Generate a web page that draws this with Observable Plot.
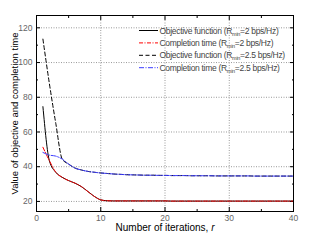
<!DOCTYPE html>
<html><head><meta charset="utf-8">
<script src="https://cdn.jsdelivr.net/npm/d3@7"></script>
<script src="https://cdn.jsdelivr.net/npm/@observablehq/plot@0.6"></script>
<style>
body{margin:0;background:#fff;}
#chart{position:relative;width:314px;height:242px;}
#legend{position:absolute;left:0;top:0;}
</style></head><body><div id="chart"></div>
<script>
const iterations = [1,2,3,4,5,6,7,8,9,10,11,12,13,14,15,16,17,18,19,20,21,22,23,24,25,26,27,28,29,30,31,32,33,34,35,36,37,38,39,40];
const objectiveR2 = [74.6,43.5,36.8,33.9,32.0,30.5,28.5,25.7,22.9,20.9,20.4,20.3,20.3,20.3,20.3,20.3,20.3,20.3,20.3,20.3,20.2,20.2,20.2,20.2,20.2,20.2,20.2,20.2,20.2,20.2,20.2,20.2,20.2,20.2,20.2,20.2,20.2,20.2,20.2,20.2];
const completionR2 = [51.2,43.5,36.8,33.9,32.0,30.5,28.5,25.7,22.9,20.9,20.4,20.3,20.3,20.3,20.3,20.3,20.3,20.3,20.3,20.3,20.2,20.2,20.2,20.2,20.2,20.2,20.2,20.2,20.2,20.2,20.2,20.2,20.2,20.2,20.2,20.2,20.2,20.2,20.2,20.2];
const objectiveR25 = [113.5,88.0,65.0,44.4,41.5,39.2,38.1,37.3,36.8,36.4,36.1,35.8,35.6,35.4,35.3,35.2,35.1,35.1,35.0,35.0,34.9,34.9,34.9,34.8,34.8,34.8,34.8,34.7,34.7,34.7,34.7,34.7,34.7,34.6,34.6,34.6,34.6,34.6,34.6,34.6];
const completionR25 = [48.2,46.7,46.1,44.4,41.5,39.2,38.1,37.3,36.8,36.4,36.1,35.8,35.6,35.4,35.3,35.2,35.1,35.1,35.0,35.0,34.9,34.9,34.9,34.8,34.8,34.8,34.8,34.7,34.7,34.7,34.7,34.7,34.7,34.6,34.6,34.6,34.6,34.6,34.6,34.6];
const xMajorTicks = [0,10,20,30,40];
const xMinorTicks = [5,15,25,35];
const yMajorTicks = [20,40,60,80,100,120];
const yMinorTicks = [30,50,70,90,110];
const seriesNames = ["obj2","comp2","obj25","comp25"];
const legendParts = [
  ["Objective function (R","min","=2 bps/Hz)"],
  ["Completion time (R","min","=2 bps/Hz)"],
  ["Objective function (R","min","=2.5 bps/Hz)"],
  ["Completion time (R","min","=2.5 bps/Hz)"]
];

const styles = {
  obj2: {stroke:"#000", dash:null},
  comp2: {stroke:"#ff0000", dash:"4,1.5,1,1.5"},
  obj25: {stroke:"#000", dash:"4,2.5"},
  comp25: {stroke:"#3b3bff", dash:"5,1.5,1,1.5"}
};
const valuesBy = {obj2: objectiveR2, comp2: completionR2, obj25: objectiveR25, comp25: completionR25};
const rows = s => iterations.map((x,i)=>({x, y: valuesBy[s][i]}));

const axisFont = "'Liberation Sans', Arial, sans-serif";
const chart = Plot.plot({
  width:314, height:242,
  marginLeft:36, marginRight:21, marginTop:15, marginBottom:31,
  style:{fontFamily:axisFont, fontSize:"8.5px", background:"#fff", color:"#000"},
  x:{domain:[0,40]},
  y:{domain:[14.2,127.1]},
  marks:[
    Plot.gridX(xMajorTicks, {stroke:"#9a9a9a", strokeOpacity:1, strokeDasharray:"1,1.5"}),
    Plot.gridY(yMajorTicks, {stroke:"#9a9a9a", strokeOpacity:1, strokeDasharray:"1,1.5"}),
    Plot.axisX(xMajorTicks, {tickSize:0, tickPadding:3, fill:"#666", label:null}),
    Plot.axisY(yMajorTicks, {tickSize:0, tickPadding:4, fill:"#666", label:null}),
    Plot.axisX([], {label:"Number of iterations, r", labelAnchor:"center", labelArrow:"none", labelOffset:19, fontSize:"10px", fill:"#000"}),
    Plot.axisY([], {label:"Value of objective and completion time", labelAnchor:"center", labelArrow:"none", labelOffset:25, fontSize:"9.5px", fill:"#000"}),
    Plot.axisX(xMajorTicks, {anchor:"bottom", tickSize:4, dy:-4, tickFormat:()=>"", label:null, stroke:"#000"}),
    Plot.axisX(xMinorTicks, {anchor:"bottom", tickSize:2, dy:-2, tickFormat:()=>"", label:null, stroke:"#000"}),
    Plot.axisX(xMajorTicks, {anchor:"top", tickSize:4, dy:4, tickFormat:()=>"", label:null, stroke:"#000"}),
    Plot.axisX(xMinorTicks, {anchor:"top", tickSize:2, dy:2, tickFormat:()=>"", label:null, stroke:"#000"}),
    Plot.axisY(yMajorTicks, {anchor:"left", tickSize:4, dx:4, tickFormat:()=>"", label:null, stroke:"#000"}),
    Plot.axisY(yMinorTicks, {anchor:"left", tickSize:2, dx:2, tickFormat:()=>"", label:null, stroke:"#000"}),
    Plot.axisY(yMajorTicks, {anchor:"right", tickSize:4, dx:-4, tickFormat:()=>"", label:null, stroke:"#000"}),
    Plot.axisY(yMinorTicks, {anchor:"right", tickSize:2, dx:-2, tickFormat:()=>"", label:null, stroke:"#000"}),
    ...["obj25","obj2","comp2","comp25"].map(s => Plot.line(rows(s), {x:"x", y:"y", stroke:styles[s].stroke, strokeWidth:1, strokeDasharray:styles[s].dash, curve:"monotone-x"})),
    Plot.frame({stroke:"#000", strokeWidth:1})
  ]
});
document.getElementById("chart").appendChild(chart);

const xl = d3.select(chart).select('g[aria-label="x-axis label"] text');
if (!xl.empty()) {
  xl.text(null);
  xl.append("tspan").text("Number of iterations, ");
  xl.append("tspan").attr("font-style","italic").text("r");
}

const lg = d3.select("#chart").append("svg").attr("id","legend").attr("width",314).attr("height",242);
const legendTop = 30.5, legendStep = 12.4, swX1 = 139, swX2 = 158, txX = 159.5;
seriesNames.forEach((s,i)=>{
  const y = legendTop + i*legendStep;
  lg.append("line").attr("x1",swX1).attr("x2",swX2).attr("y1",y).attr("y2",y)
    .attr("stroke",styles[s].stroke).attr("stroke-width",1).attr("stroke-dasharray",styles[s].dash);
  const t = lg.append("text").attr("x",txX).attr("y",y+3.1)
    .attr("font-family",axisFont).attr("font-size",8.5).attr("letter-spacing","-0.3px").attr("fill","#444");
  t.append("tspan").text(legendParts[i][0]);
  t.append("tspan").attr("font-size",5.5).attr("dy",2).text(legendParts[i][1]);
  t.append("tspan").attr("dy",-2).text(legendParts[i][2]);
});
</script>
</body></html>
